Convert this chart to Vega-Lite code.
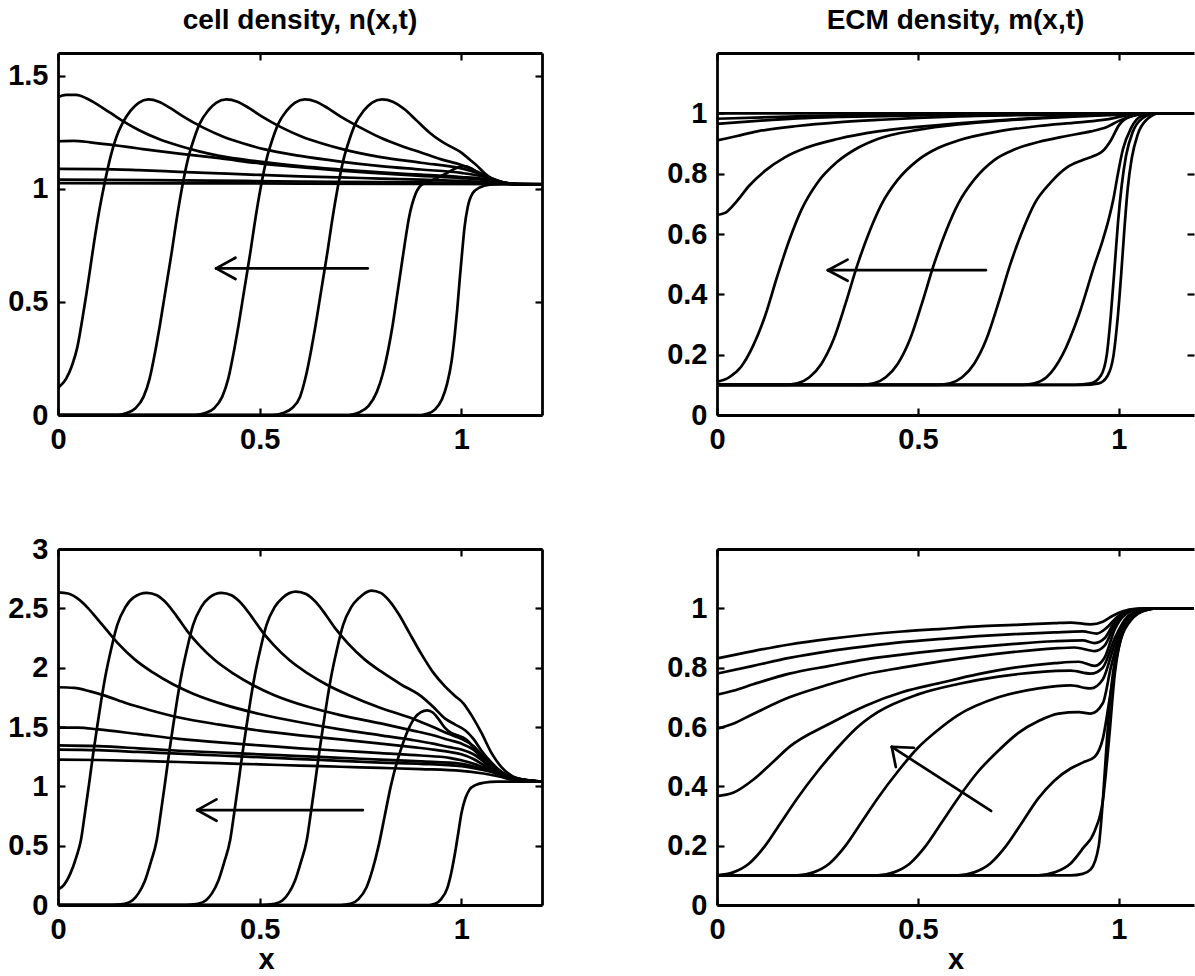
{
"$schema":"https://vega.github.io/schema/vega-lite/v6.json",
"background":"white",
"padding":{"left":7,"top":6,"right":0,"bottom":0},
"config":{
"view":{"stroke":null},
"axis":{"grid":false,"domainColor":"black","domainWidth":2.8,"tickColor":"black","tickWidth":2.2,"tickSize":-7,"labelFont":"Liberation Sans","labelFontSize":29,"labelFontWeight":"bold","labelColor":"black","labelFlush":false,"labelOverlap":false,"titleFont":"Liberation Sans","titleFontSize":29,"titleFontWeight":"bold","titleColor":"black"},
"axisX":{"labelPadding":17},
"axisY":{"labelPadding":17},
"title":{"font":"Liberation Sans","fontSize":28,"fontWeight":"bold","color":"black","anchor":"middle","baseline":"alphabetic","offset":17},
"line":{"color":"black","strokeWidth":2.7,"interpolate":"monotone","strokeCap":"round","strokeJoin":"round"}
},
"datasets":{
"tl":[
{"c":0,"x":0,"y":0},{"c":0,"x":0.9,"y":0},{"c":0,"x":0.915,"y":0.005},{"c":0,"x":0.935,"y":0.025},{"c":0,"x":0.952,"y":0.07},{"c":0,"x":0.965,"y":0.14},{"c":0,"x":0.976,"y":0.24},{"c":0,"x":0.984,"y":0.36},{"c":0,"x":0.99,"y":0.47},{"c":0,"x":0.996,"y":0.6},{"c":0,"x":1.002,"y":0.72},{"c":0,"x":1.008,"y":0.83},{"c":0,"x":1.016,"y":0.92},{"c":0,"x":1.028,"y":0.98},{"c":0,"x":1.045,"y":1.005},{"c":0,"x":1.07,"y":1.018},{"c":0,"x":1.1,"y":1.02},{"c":0,"x":1.2,"y":1.02},
{"c":1,"x":0,"y":0},{"c":1,"x":0.72,"y":0},{"c":1,"x":0.745,"y":0.01},{"c":1,"x":0.77,"y":0.04},{"c":1,"x":0.79,"y":0.1},{"c":1,"x":0.805,"y":0.18},{"c":1,"x":0.82,"y":0.3},{"c":1,"x":0.83,"y":0.4},{"c":1,"x":0.84,"y":0.52},{"c":1,"x":0.85,"y":0.64},{"c":1,"x":0.86,"y":0.76},{"c":1,"x":0.87,"y":0.87},{"c":1,"x":0.885,"y":0.97},{"c":1,"x":0.9,"y":1.015},{"c":1,"x":0.93,"y":1.04},{"c":1,"x":0.96,"y":1.065},{"c":1,"x":0.985,"y":1.09},{"c":1,"x":1.005,"y":1.1},{"c":1,"x":1.025,"y":1.09},{"c":1,"x":1.045,"y":1.065},{"c":1,"x":1.07,"y":1.04},{"c":1,"x":1.1,"y":1.025},{"c":1,"x":1.14,"y":1.02},{"c":1,"x":1.2,"y":1.02},
{"c":2,"x":0,"y":0},{"c":2,"x":0.53,"y":0},{"c":2,"x":0.56,"y":0.01},{"c":2,"x":0.58,"y":0.03},{"c":2,"x":0.6,"y":0.08},{"c":2,"x":0.613,"y":0.16},{"c":2,"x":0.628,"y":0.29},{"c":2,"x":0.638,"y":0.39},{"c":2,"x":0.648,"y":0.5},{"c":2,"x":0.658,"y":0.61},{"c":2,"x":0.668,"y":0.72},{"c":2,"x":0.678,"y":0.84},{"c":2,"x":0.693,"y":1.0},{"c":2,"x":0.708,"y":1.13},{"c":2,"x":0.723,"y":1.22},{"c":2,"x":0.738,"y":1.29},{"c":2,"x":0.758,"y":1.345},{"c":2,"x":0.778,"y":1.38},{"c":2,"x":0.803,"y":1.395},{"c":2,"x":0.83,"y":1.385},{"c":2,"x":0.86,"y":1.35},{"c":2,"x":0.89,"y":1.3},{"c":2,"x":0.92,"y":1.25},{"c":2,"x":0.95,"y":1.21},{"c":2,"x":0.975,"y":1.185},{"c":2,"x":1.0,"y":1.16},{"c":2,"x":1.02,"y":1.13},{"c":2,"x":1.04,"y":1.1},{"c":2,"x":1.06,"y":1.065},{"c":2,"x":1.08,"y":1.04},{"c":2,"x":1.1,"y":1.027},{"c":2,"x":1.14,"y":1.02},{"c":2,"x":1.2,"y":1.02},
{"c":3,"x":0,"y":0},{"c":3,"x":0.34,"y":0},{"c":3,"x":0.367,"y":0.01},{"c":3,"x":0.387,"y":0.03},{"c":3,"x":0.407,"y":0.08},{"c":3,"x":0.422,"y":0.16},{"c":3,"x":0.437,"y":0.29},{"c":3,"x":0.447,"y":0.39},{"c":3,"x":0.457,"y":0.5},{"c":3,"x":0.467,"y":0.61},{"c":3,"x":0.477,"y":0.72},{"c":3,"x":0.487,"y":0.84},{"c":3,"x":0.502,"y":1.0},{"c":3,"x":0.517,"y":1.13},{"c":3,"x":0.532,"y":1.22},{"c":3,"x":0.547,"y":1.29},{"c":3,"x":0.567,"y":1.345},{"c":3,"x":0.587,"y":1.38},{"c":3,"x":0.612,"y":1.395},{"c":3,"x":0.64,"y":1.385},{"c":3,"x":0.67,"y":1.355},{"c":3,"x":0.7,"y":1.32},{"c":3,"x":0.75,"y":1.27},{"c":3,"x":0.8,"y":1.225},{"c":3,"x":0.85,"y":1.19},{"c":3,"x":0.9,"y":1.16},{"c":3,"x":0.95,"y":1.13},{"c":3,"x":1.0,"y":1.105},{"c":3,"x":1.04,"y":1.075},{"c":3,"x":1.07,"y":1.05},{"c":3,"x":1.1,"y":1.03},{"c":3,"x":1.14,"y":1.02},{"c":3,"x":1.2,"y":1.02},
{"c":4,"x":0,"y":0},{"c":4,"x":0.15,"y":0},{"c":4,"x":0.172,"y":0.01},{"c":4,"x":0.192,"y":0.03},{"c":4,"x":0.212,"y":0.08},{"c":4,"x":0.227,"y":0.16},{"c":4,"x":0.242,"y":0.29},{"c":4,"x":0.252,"y":0.39},{"c":4,"x":0.262,"y":0.5},{"c":4,"x":0.272,"y":0.61},{"c":4,"x":0.282,"y":0.72},{"c":4,"x":0.292,"y":0.84},{"c":4,"x":0.307,"y":1.0},{"c":4,"x":0.322,"y":1.13},{"c":4,"x":0.337,"y":1.22},{"c":4,"x":0.352,"y":1.29},{"c":4,"x":0.372,"y":1.345},{"c":4,"x":0.392,"y":1.38},{"c":4,"x":0.417,"y":1.395},{"c":4,"x":0.445,"y":1.385},{"c":4,"x":0.475,"y":1.355},{"c":4,"x":0.505,"y":1.32},{"c":4,"x":0.555,"y":1.27},{"c":4,"x":0.605,"y":1.23},{"c":4,"x":0.655,"y":1.2},{"c":4,"x":0.705,"y":1.175},{"c":4,"x":0.8,"y":1.14},{"c":4,"x":0.9,"y":1.115},{"c":4,"x":1.0,"y":1.09},{"c":4,"x":1.04,"y":1.07},{"c":4,"x":1.07,"y":1.05},{"c":4,"x":1.1,"y":1.03},{"c":4,"x":1.14,"y":1.02},{"c":4,"x":1.2,"y":1.02},
{"c":5,"x":0,"y":0.12},{"c":5,"x":0.02,"y":0.16},{"c":5,"x":0.035,"y":0.22},{"c":5,"x":0.048,"y":0.3},{"c":5,"x":0.06,"y":0.42},{"c":5,"x":0.07,"y":0.53},{"c":5,"x":0.08,"y":0.65},{"c":5,"x":0.09,"y":0.77},{"c":5,"x":0.1,"y":0.88},{"c":5,"x":0.115,"y":1.02},{"c":5,"x":0.13,"y":1.14},{"c":5,"x":0.145,"y":1.23},{"c":5,"x":0.16,"y":1.29},{"c":5,"x":0.18,"y":1.345},{"c":5,"x":0.2,"y":1.38},{"c":5,"x":0.224,"y":1.395},{"c":5,"x":0.25,"y":1.385},{"c":5,"x":0.28,"y":1.355},{"c":5,"x":0.31,"y":1.32},{"c":5,"x":0.36,"y":1.27},{"c":5,"x":0.41,"y":1.23},{"c":5,"x":0.46,"y":1.2},{"c":5,"x":0.51,"y":1.175},{"c":5,"x":0.6,"y":1.145},{"c":5,"x":0.7,"y":1.12},{"c":5,"x":0.8,"y":1.1},{"c":5,"x":0.9,"y":1.085},{"c":5,"x":1.0,"y":1.07},{"c":5,"x":1.05,"y":1.055},{"c":5,"x":1.08,"y":1.04},{"c":5,"x":1.1,"y":1.03},{"c":5,"x":1.14,"y":1.02},{"c":5,"x":1.2,"y":1.02},
{"c":6,"x":0,"y":1.405},{"c":6,"x":0.02,"y":1.415},{"c":6,"x":0.045,"y":1.415},{"c":6,"x":0.07,"y":1.4},{"c":6,"x":0.1,"y":1.37},{"c":6,"x":0.13,"y":1.335},{"c":6,"x":0.16,"y":1.3},{"c":6,"x":0.2,"y":1.26},{"c":6,"x":0.25,"y":1.22},{"c":6,"x":0.3,"y":1.19},{"c":6,"x":0.35,"y":1.165},{"c":6,"x":0.4,"y":1.145},{"c":6,"x":0.5,"y":1.12},{"c":6,"x":0.6,"y":1.1},{"c":6,"x":0.7,"y":1.085},{"c":6,"x":0.8,"y":1.072},{"c":6,"x":0.9,"y":1.062},{"c":6,"x":1.0,"y":1.052},{"c":6,"x":1.05,"y":1.045},{"c":6,"x":1.1,"y":1.03},{"c":6,"x":1.14,"y":1.02},{"c":6,"x":1.2,"y":1.02},
{"c":7,"x":0,"y":1.21},{"c":7,"x":0.04,"y":1.212},{"c":7,"x":0.08,"y":1.205},{"c":7,"x":0.15,"y":1.19},{"c":7,"x":0.2,"y":1.178},{"c":7,"x":0.3,"y":1.155},{"c":7,"x":0.4,"y":1.135},{"c":7,"x":0.5,"y":1.112},{"c":7,"x":0.6,"y":1.095},{"c":7,"x":0.7,"y":1.08},{"c":7,"x":0.8,"y":1.068},{"c":7,"x":0.9,"y":1.057},{"c":7,"x":1.0,"y":1.047},{"c":7,"x":1.05,"y":1.04},{"c":7,"x":1.1,"y":1.028},{"c":7,"x":1.14,"y":1.02},{"c":7,"x":1.2,"y":1.02},
{"c":8,"x":0,"y":1.088},{"c":8,"x":0.1,"y":1.087},{"c":8,"x":0.2,"y":1.082},{"c":8,"x":0.3,"y":1.075},{"c":8,"x":0.4,"y":1.068},{"c":8,"x":0.5,"y":1.061},{"c":8,"x":0.6,"y":1.055},{"c":8,"x":0.7,"y":1.05},{"c":8,"x":0.8,"y":1.045},{"c":8,"x":0.9,"y":1.04},{"c":8,"x":1.0,"y":1.035},{"c":8,"x":1.1,"y":1.025},{"c":8,"x":1.2,"y":1.02},
{"c":9,"x":0,"y":1.04},{"c":9,"x":0.3,"y":1.037},{"c":9,"x":0.6,"y":1.032},{"c":9,"x":0.9,"y":1.028},{"c":9,"x":1.1,"y":1.022},{"c":9,"x":1.2,"y":1.02},
{"c":10,"x":0,"y":1.025},{"c":10,"x":0.6,"y":1.023},{"c":10,"x":1.2,"y":1.02}
],
"tr":[
{"c":0,"x":0,"y":0.11},{"c":0,"x":0.03,"y":0.125},{"c":0,"x":0.06,"y":0.16},{"c":0,"x":0.09,"y":0.23},{"c":0,"x":0.12,"y":0.33},{"c":0,"x":0.15,"y":0.46},{"c":0,"x":0.18,"y":0.58},{"c":0,"x":0.21,"y":0.68},{"c":0,"x":0.25,"y":0.77},{"c":0,"x":0.3,"y":0.84},{"c":0,"x":0.35,"y":0.885},{"c":0,"x":0.4,"y":0.915},{"c":0,"x":0.5,"y":0.945},{"c":0,"x":0.6,"y":0.963},{"c":0,"x":0.7,"y":0.975},{"c":0,"x":0.8,"y":0.983},{"c":0,"x":0.9,"y":0.99},{"c":0,"x":1.0,"y":0.996},{"c":0,"x":1.05,"y":1.0},{"c":0,"x":1.2,"y":1.0},
{"c":1,"x":0,"y":0.1},{"c":1,"x":0.17,"y":0.1},{"c":1,"x":0.2,"y":0.105},{"c":1,"x":0.23,"y":0.125},{"c":1,"x":0.26,"y":0.17},{"c":1,"x":0.29,"y":0.25},{"c":1,"x":0.32,"y":0.37},{"c":1,"x":0.35,"y":0.5},{"c":1,"x":0.38,"y":0.61},{"c":1,"x":0.41,"y":0.7},{"c":1,"x":0.45,"y":0.78},{"c":1,"x":0.5,"y":0.845},{"c":1,"x":0.55,"y":0.885},{"c":1,"x":0.6,"y":0.91},{"c":1,"x":0.7,"y":0.94},{"c":1,"x":0.8,"y":0.958},{"c":1,"x":0.9,"y":0.97},{"c":1,"x":0.97,"y":0.98},{"c":1,"x":1.02,"y":0.993},{"c":1,"x":1.06,"y":1.0},{"c":1,"x":1.2,"y":1.0},
{"c":2,"x":0,"y":0.1},{"c":2,"x":0.36,"y":0.1},{"c":2,"x":0.39,"y":0.105},{"c":2,"x":0.42,"y":0.125},{"c":2,"x":0.45,"y":0.17},{"c":2,"x":0.48,"y":0.25},{"c":2,"x":0.51,"y":0.37},{"c":2,"x":0.54,"y":0.5},{"c":2,"x":0.57,"y":0.61},{"c":2,"x":0.6,"y":0.7},{"c":2,"x":0.64,"y":0.78},{"c":2,"x":0.69,"y":0.845},{"c":2,"x":0.74,"y":0.88},{"c":2,"x":0.8,"y":0.905},{"c":2,"x":0.87,"y":0.925},{"c":2,"x":0.93,"y":0.94},{"c":2,"x":0.97,"y":0.955},{"c":2,"x":1.0,"y":0.975},{"c":2,"x":1.03,"y":0.99},{"c":2,"x":1.07,"y":1.0},{"c":2,"x":1.2,"y":1.0},
{"c":3,"x":0,"y":0.1},{"c":3,"x":0.55,"y":0.1},{"c":3,"x":0.58,"y":0.105},{"c":3,"x":0.61,"y":0.125},{"c":3,"x":0.64,"y":0.17},{"c":3,"x":0.67,"y":0.25},{"c":3,"x":0.7,"y":0.37},{"c":3,"x":0.73,"y":0.5},{"c":3,"x":0.76,"y":0.61},{"c":3,"x":0.79,"y":0.7},{"c":3,"x":0.83,"y":0.77},{"c":3,"x":0.87,"y":0.82},{"c":3,"x":0.91,"y":0.845},{"c":3,"x":0.94,"y":0.86},{"c":3,"x":0.96,"y":0.875},{"c":3,"x":0.98,"y":0.91},{"c":3,"x":1.0,"y":0.96},{"c":3,"x":1.03,"y":0.99},{"c":3,"x":1.07,"y":1.0},{"c":3,"x":1.2,"y":1.0},
{"c":4,"x":0,"y":0.1},{"c":4,"x":0.76,"y":0.1},{"c":4,"x":0.79,"y":0.105},{"c":4,"x":0.82,"y":0.125},{"c":4,"x":0.86,"y":0.2},{"c":4,"x":0.9,"y":0.33},{"c":4,"x":0.94,"y":0.5},{"c":4,"x":0.96,"y":0.58},{"c":4,"x":0.975,"y":0.65},{"c":4,"x":0.987,"y":0.72},{"c":4,"x":0.995,"y":0.78},{"c":4,"x":1.01,"y":0.88},{"c":4,"x":1.03,"y":0.95},{"c":4,"x":1.055,"y":0.99},{"c":4,"x":1.09,"y":1.0},{"c":4,"x":1.2,"y":1.0},
{"c":5,"x":0,"y":0.1},{"c":5,"x":0.89,"y":0.1},{"c":5,"x":0.93,"y":0.105},{"c":5,"x":0.955,"y":0.13},{"c":5,"x":0.97,"y":0.2},{"c":5,"x":0.98,"y":0.33},{"c":5,"x":0.99,"y":0.5},{"c":5,"x":0.998,"y":0.64},{"c":5,"x":1.007,"y":0.76},{"c":5,"x":1.018,"y":0.86},{"c":5,"x":1.035,"y":0.94},{"c":5,"x":1.06,"y":0.985},{"c":5,"x":1.09,"y":1.0},{"c":5,"x":1.2,"y":1.0},
{"c":6,"x":0,"y":0.1},{"c":6,"x":0.91,"y":0.1},{"c":6,"x":0.95,"y":0.105},{"c":6,"x":0.972,"y":0.13},{"c":6,"x":0.987,"y":0.2},{"c":6,"x":0.997,"y":0.32},{"c":6,"x":1.006,"y":0.47},{"c":6,"x":1.014,"y":0.62},{"c":6,"x":1.022,"y":0.75},{"c":6,"x":1.032,"y":0.85},{"c":6,"x":1.047,"y":0.93},{"c":6,"x":1.07,"y":0.98},{"c":6,"x":1.1,"y":1.0},{"c":6,"x":1.2,"y":1.0},
{"c":7,"x":0,"y":0.663},{"c":7,"x":0.02,"y":0.67},{"c":7,"x":0.05,"y":0.71},{"c":7,"x":0.08,"y":0.76},{"c":7,"x":0.12,"y":0.81},{"c":7,"x":0.17,"y":0.855},{"c":7,"x":0.22,"y":0.885},{"c":7,"x":0.3,"y":0.915},{"c":7,"x":0.4,"y":0.94},{"c":7,"x":0.5,"y":0.955},{"c":7,"x":0.6,"y":0.967},{"c":7,"x":0.7,"y":0.977},{"c":7,"x":0.8,"y":0.985},{"c":7,"x":0.9,"y":0.992},{"c":7,"x":1.0,"y":0.997},{"c":7,"x":1.05,"y":1.0},{"c":7,"x":1.2,"y":1.0},
{"c":8,"x":0,"y":0.91},{"c":8,"x":0.05,"y":0.925},{"c":8,"x":0.1,"y":0.94},{"c":8,"x":0.2,"y":0.958},{"c":8,"x":0.3,"y":0.97},{"c":8,"x":0.4,"y":0.978},{"c":8,"x":0.5,"y":0.985},{"c":8,"x":0.6,"y":0.99},{"c":8,"x":0.8,"y":0.995},{"c":8,"x":1.0,"y":0.998},{"c":8,"x":1.05,"y":1.0},{"c":8,"x":1.2,"y":1.0},
{"c":9,"x":0,"y":0.965},{"c":9,"x":0.1,"y":0.975},{"c":9,"x":0.2,"y":0.983},{"c":9,"x":0.3,"y":0.988},{"c":9,"x":0.5,"y":0.993},{"c":9,"x":0.7,"y":0.997},{"c":9,"x":1.0,"y":1.0},{"c":9,"x":1.2,"y":1.0},
{"c":10,"x":0,"y":0.982},{"c":10,"x":0.2,"y":0.99},{"c":10,"x":0.4,"y":0.995},{"c":10,"x":0.6,"y":0.998},{"c":10,"x":1.0,"y":1.0},{"c":10,"x":1.2,"y":1.0},
{"c":11,"x":0,"y":1.0},{"c":11,"x":1.2,"y":1.0}
],
"bl":[
{"c":0,"x":0,"y":0},{"c":0,"x":0.92,"y":0},{"c":0,"x":0.935,"y":0.01},{"c":0,"x":0.95,"y":0.05},{"c":0,"x":0.965,"y":0.14},{"c":0,"x":0.975,"y":0.27},{"c":0,"x":0.985,"y":0.45},{"c":0,"x":0.993,"y":0.62},{"c":0,"x":1.0,"y":0.77},{"c":0,"x":1.01,"y":0.9},{"c":0,"x":1.02,"y":0.97},{"c":0,"x":1.035,"y":1.01},{"c":0,"x":1.055,"y":1.03},{"c":0,"x":1.09,"y":1.04},{"c":0,"x":1.2,"y":1.04},
{"c":1,"x":0,"y":0},{"c":1,"x":0.7,"y":0},{"c":1,"x":0.725,"y":0.01},{"c":1,"x":0.745,"y":0.05},{"c":1,"x":0.765,"y":0.15},{"c":1,"x":0.78,"y":0.3},{"c":1,"x":0.795,"y":0.5},{"c":1,"x":0.81,"y":0.75},{"c":1,"x":0.825,"y":1.0},{"c":1,"x":0.84,"y":1.2},{"c":1,"x":0.855,"y":1.36},{"c":1,"x":0.87,"y":1.49},{"c":1,"x":0.885,"y":1.58},{"c":1,"x":0.9,"y":1.625},{"c":1,"x":0.915,"y":1.64},{"c":1,"x":0.93,"y":1.62},{"c":1,"x":0.945,"y":1.56},{"c":1,"x":0.96,"y":1.49},{"c":1,"x":0.975,"y":1.45},{"c":1,"x":0.99,"y":1.43},{"c":1,"x":1.005,"y":1.41},{"c":1,"x":1.02,"y":1.37},{"c":1,"x":1.04,"y":1.28},{"c":1,"x":1.06,"y":1.19},{"c":1,"x":1.08,"y":1.12},{"c":1,"x":1.1,"y":1.08},{"c":1,"x":1.14,"y":1.05},{"c":1,"x":1.2,"y":1.04},
{"c":2,"x":0,"y":0},{"c":2,"x":0.507,"y":0},{"c":2,"x":0.537,"y":0.01},{"c":2,"x":0.557,"y":0.04},{"c":2,"x":0.572,"y":0.1},{"c":2,"x":0.587,"y":0.2},{"c":2,"x":0.602,"y":0.36},{"c":2,"x":0.617,"y":0.55},{"c":2,"x":0.627,"y":0.78},{"c":2,"x":0.637,"y":1.02},{"c":2,"x":0.647,"y":1.27},{"c":2,"x":0.657,"y":1.5},{"c":2,"x":0.667,"y":1.72},{"c":2,"x":0.677,"y":1.92},{"c":2,"x":0.692,"y":2.16},{"c":2,"x":0.707,"y":2.36},{"c":2,"x":0.727,"y":2.51},{"c":2,"x":0.747,"y":2.59},{"c":2,"x":0.777,"y":2.65},{"c":2,"x":0.8,"y":2.63},{"c":2,"x":0.82,"y":2.57},{"c":2,"x":0.845,"y":2.45},{"c":2,"x":0.87,"y":2.3},{"c":2,"x":0.9,"y":2.12},{"c":2,"x":0.93,"y":1.96},{"c":2,"x":0.96,"y":1.84},{"c":2,"x":0.985,"y":1.76},{"c":2,"x":1.005,"y":1.7},{"c":2,"x":1.025,"y":1.6},{"c":2,"x":1.05,"y":1.45},{"c":2,"x":1.075,"y":1.28},{"c":2,"x":1.1,"y":1.16},{"c":2,"x":1.13,"y":1.08},{"c":2,"x":1.16,"y":1.05},{"c":2,"x":1.2,"y":1.04},
{"c":3,"x":0,"y":0},{"c":3,"x":0.317,"y":0},{"c":3,"x":0.347,"y":0.01},{"c":3,"x":0.367,"y":0.04},{"c":3,"x":0.382,"y":0.1},{"c":3,"x":0.397,"y":0.2},{"c":3,"x":0.412,"y":0.36},{"c":3,"x":0.427,"y":0.55},{"c":3,"x":0.437,"y":0.78},{"c":3,"x":0.447,"y":1.02},{"c":3,"x":0.457,"y":1.27},{"c":3,"x":0.467,"y":1.5},{"c":3,"x":0.477,"y":1.72},{"c":3,"x":0.487,"y":1.92},{"c":3,"x":0.502,"y":2.16},{"c":3,"x":0.517,"y":2.36},{"c":3,"x":0.537,"y":2.51},{"c":3,"x":0.557,"y":2.59},{"c":3,"x":0.59,"y":2.64},{"c":3,"x":0.615,"y":2.62},{"c":3,"x":0.64,"y":2.55},{"c":3,"x":0.665,"y":2.44},{"c":3,"x":0.69,"y":2.32},{"c":3,"x":0.72,"y":2.2},{"c":3,"x":0.76,"y":2.07},{"c":3,"x":0.8,"y":1.97},{"c":3,"x":0.85,"y":1.86},{"c":3,"x":0.9,"y":1.76},{"c":3,"x":0.93,"y":1.67},{"c":3,"x":0.96,"y":1.57},{"c":3,"x":0.985,"y":1.52},{"c":3,"x":1.01,"y":1.47},{"c":3,"x":1.03,"y":1.4},{"c":3,"x":1.05,"y":1.3},{"c":3,"x":1.075,"y":1.2},{"c":3,"x":1.1,"y":1.12},{"c":3,"x":1.13,"y":1.07},{"c":3,"x":1.16,"y":1.05},{"c":3,"x":1.2,"y":1.04},
{"c":4,"x":0,"y":0},{"c":4,"x":0.135,"y":0},{"c":4,"x":0.165,"y":0.01},{"c":4,"x":0.185,"y":0.04},{"c":4,"x":0.2,"y":0.1},{"c":4,"x":0.215,"y":0.2},{"c":4,"x":0.23,"y":0.36},{"c":4,"x":0.245,"y":0.55},{"c":4,"x":0.255,"y":0.78},{"c":4,"x":0.265,"y":1.02},{"c":4,"x":0.275,"y":1.27},{"c":4,"x":0.285,"y":1.5},{"c":4,"x":0.295,"y":1.72},{"c":4,"x":0.305,"y":1.92},{"c":4,"x":0.32,"y":2.16},{"c":4,"x":0.335,"y":2.36},{"c":4,"x":0.355,"y":2.51},{"c":4,"x":0.375,"y":2.59},{"c":4,"x":0.405,"y":2.63},{"c":4,"x":0.43,"y":2.61},{"c":4,"x":0.455,"y":2.54},{"c":4,"x":0.48,"y":2.43},{"c":4,"x":0.505,"y":2.31},{"c":4,"x":0.535,"y":2.19},{"c":4,"x":0.575,"y":2.06},{"c":4,"x":0.62,"y":1.95},{"c":4,"x":0.67,"y":1.85},{"c":4,"x":0.72,"y":1.77},{"c":4,"x":0.8,"y":1.66},{"c":4,"x":0.88,"y":1.57},{"c":4,"x":0.93,"y":1.5},{"c":4,"x":0.97,"y":1.44},{"c":4,"x":1.0,"y":1.4},{"c":4,"x":1.03,"y":1.34},{"c":4,"x":1.055,"y":1.25},{"c":4,"x":1.08,"y":1.17},{"c":4,"x":1.1,"y":1.12},{"c":4,"x":1.13,"y":1.07},{"c":4,"x":1.16,"y":1.05},{"c":4,"x":1.2,"y":1.04},
{"c":5,"x":0,"y":0.13},{"c":5,"x":0.015,"y":0.17},{"c":5,"x":0.03,"y":0.26},{"c":5,"x":0.045,"y":0.4},{"c":5,"x":0.057,"y":0.55},{"c":5,"x":0.067,"y":0.78},{"c":5,"x":0.077,"y":1.02},{"c":5,"x":0.087,"y":1.27},{"c":5,"x":0.097,"y":1.5},{"c":5,"x":0.107,"y":1.72},{"c":5,"x":0.117,"y":1.92},{"c":5,"x":0.132,"y":2.16},{"c":5,"x":0.147,"y":2.36},{"c":5,"x":0.167,"y":2.51},{"c":5,"x":0.187,"y":2.59},{"c":5,"x":0.22,"y":2.63},{"c":5,"x":0.245,"y":2.61},{"c":5,"x":0.27,"y":2.54},{"c":5,"x":0.295,"y":2.43},{"c":5,"x":0.32,"y":2.31},{"c":5,"x":0.35,"y":2.19},{"c":5,"x":0.39,"y":2.06},{"c":5,"x":0.435,"y":1.95},{"c":5,"x":0.485,"y":1.85},{"c":5,"x":0.535,"y":1.77},{"c":5,"x":0.62,"y":1.67},{"c":5,"x":0.7,"y":1.6},{"c":5,"x":0.8,"y":1.53},{"c":5,"x":0.88,"y":1.47},{"c":5,"x":0.93,"y":1.43},{"c":5,"x":0.97,"y":1.39},{"c":5,"x":1.0,"y":1.36},{"c":5,"x":1.03,"y":1.31},{"c":5,"x":1.055,"y":1.23},{"c":5,"x":1.08,"y":1.16},{"c":5,"x":1.1,"y":1.11},{"c":5,"x":1.13,"y":1.07},{"c":5,"x":1.16,"y":1.05},{"c":5,"x":1.2,"y":1.04},
{"c":6,"x":0,"y":2.635},{"c":6,"x":0.025,"y":2.625},{"c":6,"x":0.05,"y":2.58},{"c":6,"x":0.075,"y":2.5},{"c":6,"x":0.1,"y":2.4},{"c":6,"x":0.125,"y":2.3},{"c":6,"x":0.15,"y":2.2},{"c":6,"x":0.19,"y":2.07},{"c":6,"x":0.235,"y":1.96},{"c":6,"x":0.285,"y":1.86},{"c":6,"x":0.335,"y":1.78},{"c":6,"x":0.42,"y":1.68},{"c":6,"x":0.5,"y":1.61},{"c":6,"x":0.6,"y":1.54},{"c":6,"x":0.7,"y":1.48},{"c":6,"x":0.8,"y":1.43},{"c":6,"x":0.88,"y":1.39},{"c":6,"x":0.93,"y":1.36},{"c":6,"x":0.97,"y":1.33},{"c":6,"x":1.0,"y":1.31},{"c":6,"x":1.03,"y":1.27},{"c":6,"x":1.055,"y":1.21},{"c":6,"x":1.08,"y":1.15},{"c":6,"x":1.1,"y":1.11},{"c":6,"x":1.13,"y":1.07},{"c":6,"x":1.16,"y":1.05},{"c":6,"x":1.2,"y":1.04},
{"c":7,"x":0,"y":1.835},{"c":7,"x":0.04,"y":1.83},{"c":7,"x":0.08,"y":1.8},{"c":7,"x":0.12,"y":1.76},{"c":7,"x":0.17,"y":1.7},{"c":7,"x":0.22,"y":1.65},{"c":7,"x":0.3,"y":1.58},{"c":7,"x":0.4,"y":1.52},{"c":7,"x":0.5,"y":1.47},{"c":7,"x":0.6,"y":1.43},{"c":7,"x":0.7,"y":1.395},{"c":7,"x":0.8,"y":1.36},{"c":7,"x":0.88,"y":1.33},{"c":7,"x":0.93,"y":1.31},{"c":7,"x":0.97,"y":1.29},{"c":7,"x":1.0,"y":1.27},{"c":7,"x":1.03,"y":1.23},{"c":7,"x":1.06,"y":1.17},{"c":7,"x":1.09,"y":1.12},{"c":7,"x":1.12,"y":1.08},{"c":7,"x":1.16,"y":1.05},{"c":7,"x":1.2,"y":1.04},
{"c":8,"x":0,"y":1.495},{"c":8,"x":0.05,"y":1.495},{"c":8,"x":0.1,"y":1.48},{"c":8,"x":0.2,"y":1.44},{"c":8,"x":0.3,"y":1.4},{"c":8,"x":0.4,"y":1.37},{"c":8,"x":0.5,"y":1.345},{"c":8,"x":0.6,"y":1.32},{"c":8,"x":0.7,"y":1.3},{"c":8,"x":0.8,"y":1.28},{"c":8,"x":0.9,"y":1.26},{"c":8,"x":0.97,"y":1.24},{"c":8,"x":1.0,"y":1.22},{"c":8,"x":1.04,"y":1.18},{"c":8,"x":1.08,"y":1.12},{"c":8,"x":1.12,"y":1.08},{"c":8,"x":1.16,"y":1.05},{"c":8,"x":1.2,"y":1.04},
{"c":9,"x":0,"y":1.345},{"c":9,"x":0.1,"y":1.338},{"c":9,"x":0.2,"y":1.32},{"c":9,"x":0.3,"y":1.3},{"c":9,"x":0.4,"y":1.285},{"c":9,"x":0.5,"y":1.27},{"c":9,"x":0.6,"y":1.255},{"c":9,"x":0.7,"y":1.24},{"c":9,"x":0.8,"y":1.225},{"c":9,"x":0.9,"y":1.21},{"c":9,"x":1.0,"y":1.19},{"c":9,"x":1.05,"y":1.15},{"c":9,"x":1.1,"y":1.1},{"c":9,"x":1.15,"y":1.06},{"c":9,"x":1.2,"y":1.04},
{"c":10,"x":0,"y":1.31},{"c":10,"x":0.1,"y":1.305},{"c":10,"x":0.2,"y":1.29},{"c":10,"x":0.3,"y":1.275},{"c":10,"x":0.4,"y":1.26},{"c":10,"x":0.5,"y":1.245},{"c":10,"x":0.6,"y":1.23},{"c":10,"x":0.7,"y":1.215},{"c":10,"x":0.8,"y":1.2},{"c":10,"x":0.9,"y":1.19},{"c":10,"x":1.0,"y":1.17},{"c":10,"x":1.05,"y":1.14},{"c":10,"x":1.1,"y":1.1},{"c":10,"x":1.15,"y":1.06},{"c":10,"x":1.2,"y":1.04},
{"c":11,"x":0,"y":1.225},{"c":11,"x":0.1,"y":1.222},{"c":11,"x":0.2,"y":1.215},{"c":11,"x":0.3,"y":1.205},{"c":11,"x":0.4,"y":1.195},{"c":11,"x":0.5,"y":1.185},{"c":11,"x":0.6,"y":1.175},{"c":11,"x":0.7,"y":1.165},{"c":11,"x":0.8,"y":1.155},{"c":11,"x":0.9,"y":1.145},{"c":11,"x":1.0,"y":1.13},{"c":11,"x":1.05,"y":1.11},{"c":11,"x":1.1,"y":1.08},{"c":11,"x":1.15,"y":1.055},{"c":11,"x":1.2,"y":1.04}
],
"br":[
{"c":0,"x":0,"y":0.831},{"c":0,"x":0.09,"y":0.856},{"c":0,"x":0.18,"y":0.878},{"c":0,"x":0.28,"y":0.897},{"c":0,"x":0.37,"y":0.911},{"c":0,"x":0.46,"y":0.922},{"c":0,"x":0.56,"y":0.931},{"c":0,"x":0.65,"y":0.939},{"c":0,"x":0.74,"y":0.944},{"c":0,"x":0.84,"y":0.95},{"c":0,"x":0.88,"y":0.952},{"c":0,"x":0.93,"y":0.946},{"c":0,"x":0.96,"y":0.955},{"c":0,"x":0.985,"y":0.975},{"c":0,"x":1.01,"y":0.99},{"c":0,"x":1.04,"y":0.998},{"c":0,"x":1.1,"y":1.0},{"c":0,"x":1.2,"y":1.0},
{"c":1,"x":0,"y":0.78},{"c":1,"x":0.09,"y":0.806},{"c":1,"x":0.18,"y":0.833},{"c":1,"x":0.28,"y":0.856},{"c":1,"x":0.37,"y":0.872},{"c":1,"x":0.46,"y":0.886},{"c":1,"x":0.56,"y":0.897},{"c":1,"x":0.65,"y":0.906},{"c":1,"x":0.74,"y":0.913},{"c":1,"x":0.84,"y":0.919},{"c":1,"x":0.91,"y":0.922},{"c":1,"x":0.945,"y":0.915},{"c":1,"x":0.97,"y":0.935},{"c":1,"x":0.995,"y":0.97},{"c":1,"x":1.02,"y":0.99},{"c":1,"x":1.05,"y":0.998},{"c":1,"x":1.1,"y":1.0},{"c":1,"x":1.2,"y":1.0},
{"c":2,"x":0,"y":0.709},{"c":2,"x":0.04,"y":0.722},{"c":2,"x":0.09,"y":0.744},{"c":2,"x":0.18,"y":0.78},{"c":2,"x":0.28,"y":0.806},{"c":2,"x":0.37,"y":0.828},{"c":2,"x":0.46,"y":0.844},{"c":2,"x":0.56,"y":0.859},{"c":2,"x":0.65,"y":0.87},{"c":2,"x":0.74,"y":0.88},{"c":2,"x":0.84,"y":0.889},{"c":2,"x":0.91,"y":0.892},{"c":2,"x":0.94,"y":0.883},{"c":2,"x":0.965,"y":0.9},{"c":2,"x":0.99,"y":0.955},{"c":2,"x":1.015,"y":0.985},{"c":2,"x":1.05,"y":0.998},{"c":2,"x":1.1,"y":1.0},{"c":2,"x":1.2,"y":1.0},
{"c":3,"x":0,"y":0.594},{"c":3,"x":0.04,"y":0.611},{"c":3,"x":0.09,"y":0.644},{"c":3,"x":0.18,"y":0.7},{"c":3,"x":0.28,"y":0.744},{"c":3,"x":0.37,"y":0.778},{"c":3,"x":0.46,"y":0.8},{"c":3,"x":0.56,"y":0.822},{"c":3,"x":0.65,"y":0.839},{"c":3,"x":0.74,"y":0.853},{"c":3,"x":0.84,"y":0.865},{"c":3,"x":0.89,"y":0.868},{"c":3,"x":0.94,"y":0.856},{"c":3,"x":0.965,"y":0.875},{"c":3,"x":0.99,"y":0.945},{"c":3,"x":1.015,"y":0.982},{"c":3,"x":1.05,"y":0.997},{"c":3,"x":1.1,"y":1.0},{"c":3,"x":1.2,"y":1.0},
{"c":4,"x":0,"y":0.367},{"c":4,"x":0.04,"y":0.378},{"c":4,"x":0.09,"y":0.422},{"c":4,"x":0.14,"y":0.483},{"c":4,"x":0.18,"y":0.533},{"c":4,"x":0.28,"y":0.611},{"c":4,"x":0.37,"y":0.672},{"c":4,"x":0.46,"y":0.717},{"c":4,"x":0.56,"y":0.75},{"c":4,"x":0.65,"y":0.778},{"c":4,"x":0.74,"y":0.8},{"c":4,"x":0.84,"y":0.815},{"c":4,"x":0.9,"y":0.82},{"c":4,"x":0.94,"y":0.806},{"c":4,"x":0.965,"y":0.835},{"c":4,"x":0.99,"y":0.93},{"c":4,"x":1.015,"y":0.978},{"c":4,"x":1.05,"y":0.996},{"c":4,"x":1.1,"y":1.0},{"c":4,"x":1.2,"y":1.0},
{"c":5,"x":0,"y":0.1},{"c":5,"x":0.04,"y":0.11},{"c":5,"x":0.08,"y":0.14},{"c":5,"x":0.12,"y":0.2},{"c":5,"x":0.16,"y":0.28},{"c":5,"x":0.2,"y":0.36},{"c":5,"x":0.25,"y":0.45},{"c":5,"x":0.3,"y":0.53},{"c":5,"x":0.35,"y":0.6},{"c":5,"x":0.4,"y":0.65},{"c":5,"x":0.5,"y":0.71},{"c":5,"x":0.6,"y":0.745},{"c":5,"x":0.7,"y":0.77},{"c":5,"x":0.8,"y":0.785},{"c":5,"x":0.88,"y":0.79},{"c":5,"x":0.93,"y":0.78},{"c":5,"x":0.96,"y":0.8},{"c":5,"x":0.99,"y":0.9},{"c":5,"x":1.02,"y":0.97},{"c":5,"x":1.06,"y":0.995},{"c":5,"x":1.1,"y":1.0},{"c":5,"x":1.2,"y":1.0},
{"c":6,"x":0,"y":0.1},{"c":6,"x":0.2,"y":0.1},{"c":6,"x":0.24,"y":0.11},{"c":6,"x":0.28,"y":0.14},{"c":6,"x":0.32,"y":0.2},{"c":6,"x":0.36,"y":0.28},{"c":6,"x":0.4,"y":0.36},{"c":6,"x":0.45,"y":0.45},{"c":6,"x":0.5,"y":0.53},{"c":6,"x":0.55,"y":0.59},{"c":6,"x":0.6,"y":0.64},{"c":6,"x":0.7,"y":0.7},{"c":6,"x":0.8,"y":0.73},{"c":6,"x":0.88,"y":0.74},{"c":6,"x":0.93,"y":0.73},{"c":6,"x":0.96,"y":0.76},{"c":6,"x":0.99,"y":0.88},{"c":6,"x":1.02,"y":0.96},{"c":6,"x":1.06,"y":0.995},{"c":6,"x":1.1,"y":1.0},{"c":6,"x":1.2,"y":1.0},
{"c":7,"x":0,"y":0.1},{"c":7,"x":0.4,"y":0.1},{"c":7,"x":0.44,"y":0.11},{"c":7,"x":0.48,"y":0.14},{"c":7,"x":0.52,"y":0.2},{"c":7,"x":0.56,"y":0.28},{"c":7,"x":0.6,"y":0.36},{"c":7,"x":0.65,"y":0.45},{"c":7,"x":0.7,"y":0.52},{"c":7,"x":0.75,"y":0.58},{"c":7,"x":0.8,"y":0.62},{"c":7,"x":0.85,"y":0.645},{"c":7,"x":0.9,"y":0.65},{"c":7,"x":0.93,"y":0.645},{"c":7,"x":0.96,"y":0.68},{"c":7,"x":0.98,"y":0.8},{"c":7,"x":1.0,"y":0.9},{"c":7,"x":1.03,"y":0.97},{"c":7,"x":1.07,"y":0.995},{"c":7,"x":1.1,"y":1.0},{"c":7,"x":1.2,"y":1.0},
{"c":8,"x":0,"y":0.1},{"c":8,"x":0.6,"y":0.1},{"c":8,"x":0.64,"y":0.11},{"c":8,"x":0.68,"y":0.14},{"c":8,"x":0.72,"y":0.2},{"c":8,"x":0.76,"y":0.28},{"c":8,"x":0.8,"y":0.36},{"c":8,"x":0.84,"y":0.42},{"c":8,"x":0.88,"y":0.46},{"c":8,"x":0.91,"y":0.48},{"c":8,"x":0.94,"y":0.5},{"c":8,"x":0.96,"y":0.56},{"c":8,"x":0.98,"y":0.72},{"c":8,"x":1.0,"y":0.87},{"c":8,"x":1.03,"y":0.96},{"c":8,"x":1.07,"y":0.995},{"c":8,"x":1.1,"y":1.0},{"c":8,"x":1.2,"y":1.0},
{"c":9,"x":0,"y":0.1},{"c":9,"x":0.8,"y":0.1},{"c":9,"x":0.84,"y":0.11},{"c":9,"x":0.88,"y":0.14},{"c":9,"x":0.91,"y":0.19},{"c":9,"x":0.94,"y":0.25},{"c":9,"x":0.96,"y":0.35},{"c":9,"x":0.975,"y":0.55},{"c":9,"x":0.99,"y":0.78},{"c":9,"x":1.01,"y":0.92},{"c":9,"x":1.04,"y":0.98},{"c":9,"x":1.08,"y":1.0},{"c":9,"x":1.2,"y":1.0},
{"c":10,"x":0,"y":0.1},{"c":10,"x":0.88,"y":0.1},{"c":10,"x":0.91,"y":0.105},{"c":10,"x":0.93,"y":0.12},{"c":10,"x":0.95,"y":0.2},{"c":10,"x":0.96,"y":0.35},{"c":10,"x":0.97,"y":0.55},{"c":10,"x":0.98,"y":0.72},{"c":10,"x":0.995,"y":0.86},{"c":10,"x":1.01,"y":0.94},{"c":10,"x":1.04,"y":0.985},{"c":10,"x":1.08,"y":1.0},{"c":10,"x":1.2,"y":1.0}
],
"arr":[
{"p":"tl","s":0,"x":0.392,"y":0.648},{"p":"tl","s":0,"x":0.768,"y":0.648},{"p":"tl","s":1,"x":0.392,"y":0.648},{"p":"tl","s":1,"x":0.44,"y":0.695},{"p":"tl","s":2,"x":0.392,"y":0.648},{"p":"tl","s":2,"x":0.44,"y":0.601},
{"p":"tr","s":0,"x":0.276,"y":0.48},{"p":"tr","s":0,"x":0.669,"y":0.48},{"p":"tr","s":1,"x":0.276,"y":0.48},{"p":"tr","s":1,"x":0.325,"y":0.515},{"p":"tr","s":2,"x":0.276,"y":0.48},{"p":"tr","s":2,"x":0.325,"y":0.445},
{"p":"bl","s":0,"x":0.345,"y":0.8},{"p":"bl","s":0,"x":0.756,"y":0.8},{"p":"bl","s":1,"x":0.345,"y":0.8},{"p":"bl","s":1,"x":0.393,"y":0.89},{"p":"bl","s":2,"x":0.345,"y":0.8},{"p":"bl","s":2,"x":0.393,"y":0.71},
{"p":"br","s":0,"x":0.435,"y":0.533},{"p":"br","s":0,"x":0.682,"y":0.317},{"p":"br","s":1,"x":0.435,"y":0.533},{"p":"br","s":1,"x":0.49,"y":0.53},{"p":"br","s":2,"x":0.435,"y":0.533},{"p":"br","s":2,"x":0.445,"y":0.465}
]
},
"columns":2,
"spacing":{"row":134,"column":175},
"bounds":"flush",
"concat":[
{"width":484,"height":362,"title":"cell density, n(x,t)",
"layer":[
{"data":{"name":"tl"},"mark":{"type":"line","clip":true},
"encoding":{"x":{"field":"x","type":"quantitative","scale":{"domain":[0,1.2],"nice":false},"axis":{"orient":"bottom","values":[0,0.5,1],"format":"~g","title":null}},
"y":{"field":"y","type":"quantitative","scale":{"domain":[0,1.6],"nice":false},"axis":{"orient":"left","values":[0,0.5,1,1.5],"format":"~g","title":null}},
"detail":{"field":"c","type":"nominal"}}},
{"data":{"name":"arr"},"transform":[{"filter":"datum.p=='tl'"}],"mark":{"type":"line","interpolate":"linear"},
"encoding":{"x":{"field":"x","type":"quantitative","axis":{"orient":"top","values":[0,0.5,1],"labels":false,"title":null}},
"y":{"field":"y","type":"quantitative","axis":{"orient":"right","values":[0,0.5,1,1.5],"labels":false,"title":null}},
"detail":{"field":"s","type":"nominal"}}}
],
"resolve":{"axis":{"x":"independent","y":"independent"}}},
{"width":477,"height":362,"title":"ECM density, m(x,t)",
"layer":[
{"data":{"name":"tr"},"mark":{"type":"line","clip":true},
"encoding":{"x":{"field":"x","type":"quantitative","scale":{"domain":[0,1.187],"nice":false},"axis":{"orient":"bottom","values":[0,0.5,1],"format":"~g","title":null}},
"y":{"field":"y","type":"quantitative","scale":{"domain":[0,1.2],"nice":false},"axis":{"orient":"left","values":[0,0.2,0.4,0.6,0.8,1],"format":"~g","title":null}},
"detail":{"field":"c","type":"nominal"}}},
{"data":{"name":"arr"},"transform":[{"filter":"datum.p=='tr'"}],"mark":{"type":"line","interpolate":"linear"},
"encoding":{"x":{"field":"x","type":"quantitative","axis":{"orient":"top","values":[0,0.5,1],"labels":false,"title":null}},
"y":{"field":"y","type":"quantitative","axis":{"orient":"right","values":[0.2,0.4,0.6,0.8,1],"labels":false,"title":null,"domain":false}},
"detail":{"field":"s","type":"nominal"}}}
],
"resolve":{"axis":{"x":"independent","y":"independent"}}},
{"width":484,"height":356,
"layer":[
{"data":{"name":"bl"},"mark":{"type":"line","clip":true},
"encoding":{"x":{"field":"x","type":"quantitative","scale":{"domain":[0,1.2],"nice":false},"axis":{"orient":"bottom","values":[0,0.5,1],"format":"~g","title":"x","titleY":63,"titleX":208,"titleBaseline":"alphabetic"}},
"y":{"field":"y","type":"quantitative","scale":{"domain":[0,3],"nice":false},"axis":{"orient":"left","values":[0,0.5,1,1.5,2,2.5,3],"format":"~g","title":null}},
"detail":{"field":"c","type":"nominal"}}},
{"data":{"name":"arr"},"transform":[{"filter":"datum.p=='bl'"}],"mark":{"type":"line","interpolate":"linear"},
"encoding":{"x":{"field":"x","type":"quantitative","axis":{"orient":"top","values":[0,0.5,1],"labels":false,"title":null}},
"y":{"field":"y","type":"quantitative","axis":{"orient":"right","values":[0,0.5,1,1.5,2,2.5,3],"labels":false,"title":null}},
"detail":{"field":"s","type":"nominal"}}}
],
"resolve":{"axis":{"x":"independent","y":"independent"}}},
{"width":477,"height":356,
"layer":[
{"data":{"name":"br"},"mark":{"type":"line","clip":true},
"encoding":{"x":{"field":"x","type":"quantitative","scale":{"domain":[0,1.187],"nice":false},"axis":{"orient":"bottom","values":[0,0.5,1],"format":"~g","title":"x","titleY":63,"titleBaseline":"alphabetic"}},
"y":{"field":"y","type":"quantitative","scale":{"domain":[0,1.2],"nice":false},"axis":{"orient":"left","values":[0,0.2,0.4,0.6,0.8,1],"format":"~g","title":null}},
"detail":{"field":"c","type":"nominal"}}},
{"data":{"name":"arr"},"transform":[{"filter":"datum.p=='br'"}],"mark":{"type":"line","interpolate":"linear"},
"encoding":{"x":{"field":"x","type":"quantitative","axis":{"orient":"top","values":[0,0.5,1],"labels":false,"title":null}},
"y":{"field":"y","type":"quantitative","axis":{"orient":"right","values":[0.2,0.4,0.6,0.8,1],"labels":false,"ticks":false,"title":null,"domain":false}},
"detail":{"field":"s","type":"nominal"}}}
],
"resolve":{"axis":{"x":"independent","y":"independent"}}}
]
}
